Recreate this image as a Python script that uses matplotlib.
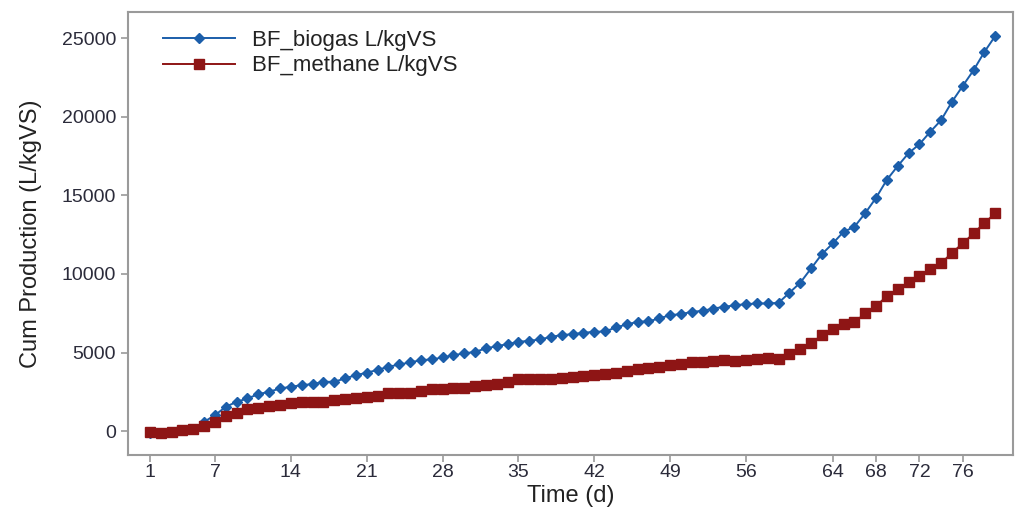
import matplotlib.pyplot as plt

plt.rcParams['font.family'] = ['Liberation Sans', 'DejaVu Sans']

# days 1..79
days = list(range(1, 80))

biogas = [
    -100, -100, -80, 50, 150, 590, 1018, 1547, 1865, 2077,
    2353, 2501, 2713, 2819, 2926, 2990, 3138, 3138, 3350, 3562,
    3710, 3900, 4090, 4240, 4367, 4516, 4558, 4685, 4834, 4940,
    5046, 5258, 5406, 5533, 5681, 5745, 5830, 6000, 6106, 6170,
    6254, 6318, 6340, 6595, 6786, 6955, 6980, 7170, 7380, 7440,
    7590, 7650, 7800, 7905, 8010, 8075, 8120, 8120, 8160, 8800,
    9434, 10345, 11257, 11936, 12679, 12995, 13865, 14840, 15990, 16865,
    17680, 18250, 19040, 19780, 20945, 21960, 22960, 24125, 25140,
]

methane = [
    -80, -110, -60, 100, 110, 320, 590, 954, 1166, 1378,
    1442, 1590, 1654, 1760, 1865, 1865, 1880, 1972, 2014, 2077,
    2183, 2260, 2396, 2438, 2450, 2565, 2680, 2680, 2713, 2756,
    2862, 2926, 2990, 3138, 3286, 3320, 3300, 3300, 3350, 3456,
    3498, 3600, 3625, 3700, 3850, 3950, 4000, 4100, 4200, 4260,
    4410, 4410, 4473, 4515, 4473, 4515, 4558, 4622, 4560, 4900,
    5230, 5616, 6086, 6468, 6805, 6932, 7485, 7950, 8586, 9012,
    9496, 9858, 10284, 10666, 11340, 11938, 12574, 13248, 13846,
]

x_ticks = [1, 7, 14, 21, 28, 35, 42, 49, 56, 64, 68, 72, 76]
y_ticks = [0, 5000, 10000, 15000, 20000, 25000]

blue = '#1b5eaa'
red = '#8e1515'
grey = '#9a9a9a'
txt = '#2b2b3a'

fig = plt.figure(figsize=(10.18, 5.08), dpi=100)
ax = fig.add_axes([0.1257, 0.104, 0.869, 0.872])

ax.plot(days, biogas, color=blue, lw=1.4, marker='D', markersize=5,
        label='BF_biogas L/kgVS', zorder=2)
ax.plot(days, methane, color=red, lw=1.4, marker='s', markersize=6.5,
        label='BF_methane L/kgVS', zorder=3)

ax.set_xlim(-1.03, 80.6)
ax.set_ylim(-1530, 26650)
ax.set_xticks(x_ticks)
ax.set_yticks(y_ticks)
ax.tick_params(axis='both', colors=grey, labelcolor=txt, labelsize=14,
               length=5, width=1.2)
ax.tick_params(axis='x', pad=1.5)

for s in ax.spines.values():
    s.set_color(grey)
    s.set_linewidth(1.5)

ax.set_xlabel('Time (d)', fontsize=17, color='#222222', labelpad=3)
ax.set_ylabel('Cum Production (L/kgVS)', fontsize=17, color='#222222', labelpad=14)

leg = ax.legend(loc='upper left', frameon=False, fontsize=16,
                handlelength=3.2, handletextpad=0.8, labelspacing=0.2,
                borderaxespad=0.4, bbox_to_anchor=(0.02, 1.0))
for t in leg.get_texts():
    t.set_color('#222222')

fig.savefig('out.png', dpi=100)
